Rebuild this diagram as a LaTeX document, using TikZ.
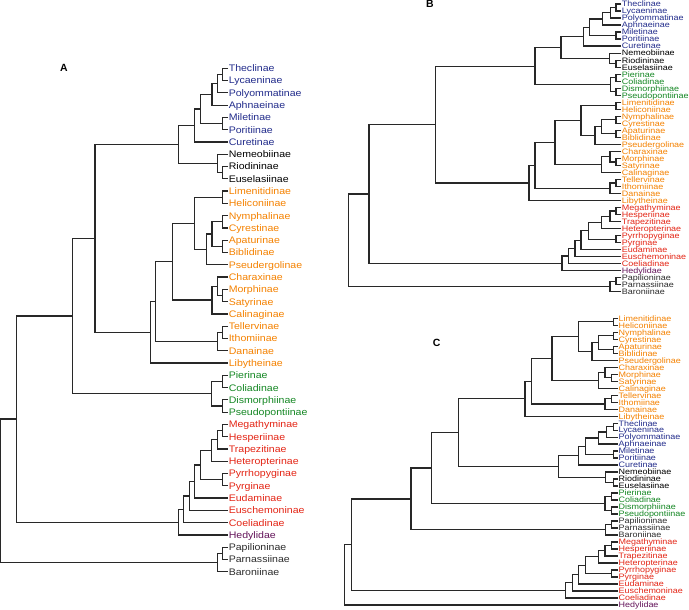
\documentclass[tikz,border=0pt]{standalone}
\usepackage{graphicx}
\usepackage{fontspec}
\setmainfont{Liberation Sans}
\usetikzlibrary{calc}
\definecolor{cblu}{RGB}{35,45,140}
\definecolor{corg}{RGB}{245,130,0}
\definecolor{cgrn}{RGB}{20,135,35}
\definecolor{cred}{RGB}{228,38,22}
\definecolor{cpur}{RGB}{100,20,90}
\definecolor{cblk}{RGB}{0,0,0}
\definecolor{cgry}{RGB}{45,45,45}
\definecolor{cbr}{RGB}{40,40,40}
\newcommand\cl[4]{%
  \coordinate (#1m) at ($(#3)!0.5!(#4)$);
  \coordinate (#1x) at (#2,0);
  \coordinate (#1) at (#1x |- #1m);
  \draw[br] (#3) -- (#1x |- #3) -- (#1x |- #4) -- (#4);
}
\newcommand\sqA[1]{\scalebox{1}[0.9]{#1}}
\newcommand\sqB[1]{\scalebox{1}[0.88]{#1}}
\tikzset{
  br/.style={draw=cbr, line width=1.25bp, line join=miter, line cap=butt},
  lfA/.style={anchor=base west, inner sep=0.6bp, yshift=-3.42bp, font=\fontsize{10.6}{12}\selectfont},
  lfB/.style={anchor=base west, inner sep=0.4bp, yshift=-2.85bp, font=\fontsize{9.0}{10}\selectfont},
  panel/.style={font=\fontsize{10.5}{12}\selectfont\bfseries, inner sep=0}
}
\begin{document}
\begin{tikzpicture}[x=1bp,y=-1bp]
\useasboundingbox (0,0) rectangle (689,610);
\fill[white] (0,0) rectangle (689,610);
% ---------------- Tree A ----------------
\foreach \t/\c [count=\i from 0] in {Theclinae/cblu, Lycaeninae/cblu, Polyommatinae/cblu, Aphnaeinae/cblu, Miletinae/cblu, Poritiinae/cblu, Curetinae/cblu, Nemeobiinae/cblk, Riodininae/cblk, Euselasiinae/cblk, Limenitidinae/corg, Heliconiinae/corg, Nymphalinae/corg, Cyrestinae/corg, Apaturinae/corg, Biblidinae/corg, Pseudergolinae/corg, Charaxinae/corg, Morphinae/corg, Satyrinae/corg, Calinaginae/corg, Tellervinae/corg, Ithomiinae/corg, Danainae/corg, Libytheinae/corg, Pierinae/cgrn, Coliadinae/cgrn, Dismorphiinae/cgrn, Pseudopontiinae/cgrn, Megathyminae/cred, Hesperiinae/cred, Trapezitinae/cred, Heteropterinae/cred, Pyrrhopyginae/cred, Pyrginae/cred, Eudaminae/cred, Euschemoninae/cred, Coeliadinae/cred, Hedylidae/cpur, Papilioninae/cgry, Parnassiinae/cgry, Baroniinae/cgry}{
  \coordinate (A-\t) at (228,{68.3+12.28*\i});
  \node[lfA, text=\c] (A-\t-lab) at (A-\t) {\sqA{\t}};
}
\cl{a1}{222.7}{A-Theclinae}{A-Lycaeninae}
\cl{a2}{217.3}{a1}{A-Polyommatinae}
\cl{a3}{212}{a2}{A-Aphnaeinae}
\cl{a4}{222.7}{A-Miletinae}{A-Poritiinae}
\cl{a5}{200.3}{a3}{a4}
\cl{a6}{194.7}{a5}{A-Curetinae}
\cl{a7}{222.7}{A-Riodininae}{A-Euselasiinae}
\cl{a8}{217.3}{A-Nemeobiinae}{a7}
\cl{a9}{178.3}{a6}{a8}
\cl{a10}{222.7}{A-Limenitidinae}{A-Heliconiinae}
\cl{a11}{222.7}{A-Nymphalinae}{A-Cyrestinae}
\cl{a12}{222.7}{A-Apaturinae}{A-Biblidinae}
\cl{a13}{212}{a11}{a12}
\cl{a14}{206.3}{a13}{A-Pseudergolinae}
\cl{a15}{194.7}{a10}{a14}
\cl{a16}{222.7}{A-Morphinae}{A-Satyrinae}
\cl{a17}{217.3}{A-Charaxinae}{a16}
\cl{a18}{212}{a17}{A-Calinaginae}
\cl{a19}{172.3}{a15}{a18}
\cl{a20}{222.7}{A-Tellervinae}{A-Ithomiinae}
\cl{a21}{217.3}{a20}{A-Danainae}
\cl{a22}{155.7}{a19}{a21}
\cl{a23}{150.7}{a22}{A-Libytheinae}
\cl{a24}{95}{a9}{a23}
\cl{a25}{222.7}{A-Pierinae}{A-Coliadinae}
\cl{a26}{222.7}{A-Dismorphiinae}{A-Pseudopontiinae}
\cl{a27}{211.7}{a25}{a26}
\cl{a28}{72.3}{a24}{a27}
\cl{ah1}{222.7}{A-Megathyminae}{A-Hesperiinae}
\cl{ah2}{217.3}{ah1}{A-Trapezitinae}
\cl{ah3}{211.7}{ah2}{A-Heteropterinae}
\cl{ah4}{222.7}{A-Pyrrhopyginae}{A-Pyrginae}
\cl{ah5}{200.3}{ah3}{ah4}
\cl{ah6}{194.7}{ah5}{A-Eudaminae}
\cl{ah7}{189.3}{ah6}{A-Euschemoninae}
\cl{ah8}{183.7}{ah7}{A-Coeliadinae}
\cl{ah9}{178.3}{ah8}{A-Hedylidae}
\cl{a29}{16.7}{a28}{ah9}
\cl{ap1}{222.7}{A-Papilioninae}{A-Parnassiinae}
\cl{ap2}{217.3}{ap1}{A-Baroniinae}
\cl{a30}{0.8}{a29}{ap2}
\node[panel] (labA) at (64,68.3) {A};
% ---------------- Tree B ----------------
\foreach \t/\c [count=\i from 0] in {Theclinae/cblu, Lycaeninae/cblu, Polyommatinae/cblu, Aphnaeinae/cblu, Miletinae/cblu, Poritiinae/cblu, Curetinae/cblu, Nemeobiinae/cblk, Riodininae/cblk, Euselasiinae/cblk, Pierinae/cgrn, Coliadinae/cgrn, Dismorphiinae/cgrn, Pseudopontiinae/cgrn, Limenitidinae/corg, Heliconiinae/corg, Nymphalinae/corg, Cyrestinae/corg, Apaturinae/corg, Biblidinae/corg, Pseudergolinae/corg, Charaxinae/corg, Morphinae/corg, Satyrinae/corg, Calinaginae/corg, Tellervinae/corg, Ithomiinae/corg, Danainae/corg, Libytheinae/corg, Megathyminae/cred, Hesperiinae/cred, Trapezitinae/cred, Heteropterinae/cred, Pyrrhopyginae/cred, Pyrginae/cred, Eudaminae/cred, Euschemoninae/cred, Coeliadinae/cred, Hedylidae/cpur, Papilioninae/cgry, Parnassiinae/cgry, Baroniinae/cgry}{
  \coordinate (B-\t) at (621.3,{4+7.02*\i});
  \node[lfB, text=\c] (B-\t-lab) at (B-\t) {\sqB{\t}};
}
\cl{b1}{616}{B-Theclinae}{B-Lycaeninae}
\cl{b2}{610.7}{b1}{B-Polyommatinae}
\cl{b3}{602.5}{b2}{B-Aphnaeinae}
\cl{b4}{616}{B-Miletinae}{B-Poritiinae}
\cl{b5}{589.3}{b3}{b4}
\cl{b6}{583.3}{b5}{B-Curetinae}
\cl{b7}{616}{B-Riodininae}{B-Euselasiinae}
\cl{b8}{609.5}{B-Nemeobiinae}{b7}
\cl{b9}{561}{b6}{b8}
\cl{b10}{616}{B-Pierinae}{B-Coliadinae}
\cl{b11}{616}{B-Dismorphiinae}{B-Pseudopontiinae}
\cl{b12}{610.7}{b10}{b11}
\cl{b13}{535}{b9}{b12}
\cl{b14}{616}{B-Limenitidinae}{B-Heliconiinae}
\cl{b15}{616}{B-Nymphalinae}{B-Cyrestinae}
\cl{b16}{616}{B-Apaturinae}{B-Biblidinae}
\cl{b17}{601.7}{b15}{b16}
\cl{b18}{595}{b17}{B-Pseudergolinae}
\cl{b19}{581}{b14}{b18}
\cl{b20}{616}{B-Morphinae}{B-Satyrinae}
\cl{b21}{610}{B-Charaxinae}{b20}
\cl{b22}{601.7}{b21}{B-Calinaginae}
\cl{b23}{555}{b19}{b22}
\cl{b24}{616}{B-Tellervinae}{B-Ithomiinae}
\cl{b25}{610}{b24}{B-Danainae}
\cl{b26}{535}{b23}{b25}
\cl{b27}{529}{b26}{B-Libytheinae}
\cl{b28}{435.3}{b13}{b27}
\cl{bh1}{616}{B-Megathyminae}{B-Hesperiinae}
\cl{bh2}{610}{bh1}{B-Trapezitinae}
\cl{bh3}{601.7}{bh2}{B-Heteropterinae}
\cl{bh4}{616}{B-Pyrrhopyginae}{B-Pyrginae}
\cl{bh5}{588.3}{bh3}{bh4}
\cl{bh6}{581}{bh5}{B-Eudaminae}
\cl{bh7}{575}{bh6}{B-Euschemoninae}
\cl{bh8}{568.7}{bh7}{B-Coeliadinae}
\cl{bh9}{562}{bh8}{B-Hedylidae}
\cl{b29}{369}{b28}{bh9}
\cl{bp1}{616}{B-Papilioninae}{B-Parnassiinae}
\cl{bp2}{610}{bp1}{B-Baroniinae}
\cl{b30}{348.3}{b29}{bp2}
\node[panel] (labB) at (430,4) {B};
% ---------------- Tree C ----------------
\foreach \t/\c [count=\i from 0] in {Limenitidinae/corg, Heliconiinae/corg, Nymphalinae/corg, Cyrestinae/corg, Apaturinae/corg, Biblidinae/corg, Pseudergolinae/corg, Charaxinae/corg, Morphinae/corg, Satyrinae/corg, Calinaginae/corg, Tellervinae/corg, Ithomiinae/corg, Danainae/corg, Libytheinae/corg, Theclinae/cblu, Lycaeninae/cblu, Polyommatinae/cblu, Aphnaeinae/cblu, Miletinae/cblu, Poritiinae/cblu, Curetinae/cblu, Nemeobiinae/cblk, Riodininae/cblk, Euselasiinae/cblk, Pierinae/cgrn, Coliadinae/cgrn, Dismorphiinae/cgrn, Pseudopontiinae/cgrn, Papilioninae/cgry, Parnassiinae/cgry, Baroniinae/cgry, Megathyminae/cred, Hesperiinae/cred, Trapezitinae/cred, Heteropterinae/cred, Pyrrhopyginae/cred, Pyrginae/cred, Eudaminae/cred, Euschemoninae/cred, Coeliadinae/cred, Hedylidae/cpur}{
  \coordinate (C-\t) at (618,{318.3+6.99*\i});
  \node[lfB, text=\c] (C-\t-lab) at (C-\t) {\sqB{\t}};
}
\cl{c1}{613.3}{C-Limenitidinae}{C-Heliconiinae}
\cl{c2}{613.3}{C-Nymphalinae}{C-Cyrestinae}
\cl{c3}{613.3}{C-Apaturinae}{C-Biblidinae}
\cl{c4}{598.3}{c2}{c3}
\cl{c5}{592}{c4}{C-Pseudergolinae}
\cl{c6}{578.3}{c1}{c5}
\cl{c7}{611.7}{C-Morphinae}{C-Satyrinae}
\cl{c8}{605}{C-Charaxinae}{c7}
\cl{c9}{598.3}{c8}{C-Calinaginae}
\cl{c10}{552}{c6}{c9}
\cl{c11}{611.7}{C-Tellervinae}{C-Ithomiinae}
\cl{c12}{605}{c11}{C-Danainae}
\cl{c13}{531.7}{c10}{c12}
\cl{c14}{525}{c13}{C-Libytheinae}
\cl{cl1}{613.3}{C-Theclinae}{C-Lycaeninae}
\cl{cl2}{606.7}{cl1}{C-Polyommatinae}
\cl{cl3}{598.3}{cl2}{C-Aphnaeinae}
\cl{cl4}{613.3}{C-Miletinae}{C-Poritiinae}
\cl{cl5}{585.7}{cl3}{cl4}
\cl{cl6}{578.3}{cl5}{C-Curetinae}
\cl{cl7}{613.3}{C-Riodininae}{C-Euselasiinae}
\cl{cl8}{605.7}{C-Nemeobiinae}{cl7}
\cl{cl9}{558.3}{cl6}{cl8}
\cl{c15}{458.3}{c14}{cl9}
\cl{cp1}{611.7}{C-Pierinae}{C-Coliadinae}
\cl{cp2}{611.7}{C-Dismorphiinae}{C-Pseudopontiinae}
\cl{cp3}{605}{cp1}{cp2}
\cl{c16}{431.7}{c15}{cp3}
\cl{cpa1}{611.7}{C-Papilioninae}{C-Parnassiinae}
\cl{cpa2}{605.5}{cpa1}{C-Baroniinae}
\cl{c17}{411}{c16}{cpa2}
\cl{ch1}{611.7}{C-Megathyminae}{C-Hesperiinae}
\cl{ch2}{605}{ch1}{C-Trapezitinae}
\cl{ch3}{598.3}{ch2}{C-Heteropterinae}
\cl{ch4}{611.7}{C-Pyrrhopyginae}{C-Pyrginae}
\cl{ch5}{585.7}{ch3}{ch4}
\cl{ch6}{578.3}{ch5}{C-Eudaminae}
\cl{ch7}{572.5}{ch6}{C-Euschemoninae}
\cl{ch8}{565.5}{ch7}{C-Coeliadinae}
\cl{c18}{351.7}{c17}{ch8}
\cl{c19}{344.3}{c18}{C-Hedylidae}
\node[panel] (labC) at (436.7,342.7) {C};
\end{tikzpicture}
\end{document}
